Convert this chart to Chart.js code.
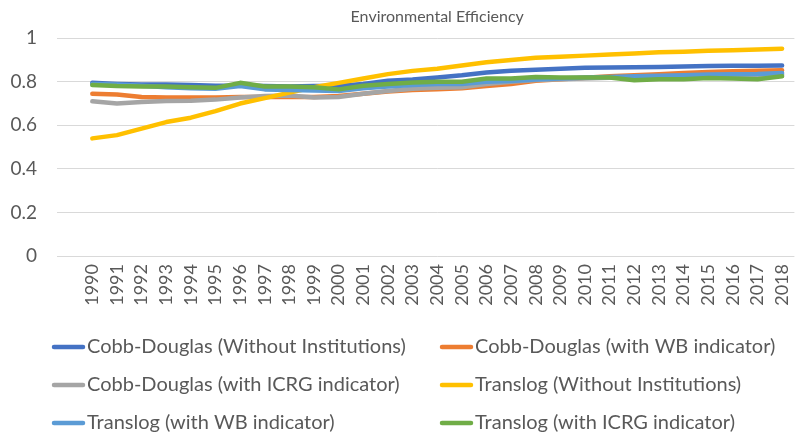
<!DOCTYPE html>
<html>
<head>
<meta charset="utf-8">
<script src="https://cdn.jsdelivr.net/npm/chart.js@4"></script>
<style>
  body { margin: 0; background: #fff; }
</style>
</head>
<body>
<canvas id="myChart" width="812" height="435"></canvas>
<script>
// years on the x axis
const years = ['1990','1991','1992','1993','1994','1995','1996','1997','1998','1999',
  '2000','2001','2002','2003','2004','2005','2006','2007','2008','2009',
  '2010','2011','2012','2013','2014','2015','2016','2017','2018'];

// series values
const cdWithout = [0.795,0.79,0.787,0.787,0.785,0.782,0.782,0.78,0.778,0.78,
  0.782,0.79,0.805,0.81,0.82,0.83,0.843,0.85,0.855,0.86,
  0.864,0.866,0.867,0.868,0.87,0.872,0.873,0.874,0.875];
const cdWB = [0.745,0.742,0.73,0.728,0.728,0.728,0.73,0.73,0.73,0.73,
  0.735,0.745,0.755,0.762,0.766,0.77,0.78,0.79,0.805,0.812,
  0.818,0.825,0.83,0.835,0.84,0.845,0.848,0.85,0.853];
const cdICRG = [0.71,0.70,0.707,0.712,0.713,0.718,0.728,0.735,0.737,0.728,
  0.73,0.745,0.758,0.768,0.772,0.775,0.79,0.80,0.808,0.812,
  0.815,0.818,0.82,0.822,0.824,0.826,0.828,0.83,0.832];
const tlWithout = [0.54,0.555,0.585,0.615,0.635,0.665,0.70,0.725,0.75,0.775,
  0.795,0.815,0.835,0.85,0.86,0.875,0.89,0.90,0.91,0.915,
  0.92,0.925,0.93,0.935,0.938,0.942,0.945,0.948,0.952];
const tlWB = [0.79,0.787,0.782,0.775,0.77,0.768,0.78,0.765,0.762,0.76,
  0.758,0.77,0.778,0.785,0.79,0.79,0.80,0.803,0.81,0.815,
  0.82,0.822,0.825,0.828,0.83,0.833,0.835,0.836,0.84];
const tlICRG = [0.785,0.78,0.778,0.778,0.775,0.772,0.795,0.778,0.778,0.775,
  0.765,0.782,0.79,0.797,0.80,0.80,0.815,0.815,0.822,0.82,
  0.82,0.82,0.807,0.812,0.812,0.817,0.815,0.812,0.825];

const seriesNames = ['Cobb-Douglas (Without Institutions)','Cobb-Douglas (with WB indicator)',
  'Cobb-Douglas (with ICRG indicator)','Translog (Without Institutions)',
  'Translog (with WB indicator)','Translog (with ICRG indicator)'];
const seriesData = [cdWithout, cdWB, cdICRG, tlWithout, tlWB, tlICRG];
const seriesColors = ['#4472C4','#ED7D31','#A5A5A5','#FFC000','#5B9BD5','#70AD47'];

const textColor = '#595959';
const fontName = 'Lato, "Open Sans", sans-serif';

// legend drawn in two columns, like the Excel one
const gridLegend = {
  id: 'gridLegend',
  afterDraw(chart) {
    const ctx = chart.ctx;
    const colX = [52, 440];
    const rowY = [347, 385, 423];
    ctx.save();
    ctx.font = '20px ' + fontName;
    ctx.fillStyle = textColor;
    ctx.textBaseline = 'middle';
    chart.data.datasets.forEach((ds, i) => {
      const x = colX[i % 2];
      const y = rowY[Math.floor(i / 2)];
      ctx.strokeStyle = ds.borderColor;
      ctx.lineWidth = 4.5;
      ctx.lineCap = 'round';
      ctx.beginPath();
      ctx.moveTo(x + 2, y);
      ctx.lineTo(x + 31, y);
      ctx.stroke();
      ctx.fillText(ds.label, x + 35, y);
    });
    ctx.restore();
  }
};

const config = {
  type: 'line',
  data: {
    labels: years,
    datasets: seriesData.map((values, i) => ({
      label: seriesNames[i],
      data: values,
      borderColor: seriesColors[i],
      backgroundColor: seriesColors[i],
      borderWidth: 4.5,
      borderCapStyle: 'round',
      borderJoinStyle: 'round',
      pointRadius: 0,
      fill: false,
      tension: 0,
      order: 5 - i // later series on top, as in Excel
    }))
  },
  options: {
    responsive: false,
    animation: false,
    layout: { padding: 0 },
    plugins: {
      legend: { display: false },
      tooltip: { enabled: false },
      title: {
        display: true,
        fullSize: false,
        text: 'Environmental Efficiency',
        color: textColor,
        font: { family: fontName, size: 16, weight: 'normal' },
        padding: { top: 7, bottom: 12 }
      }
    },
    scales: {
      x: {
        offset: true,
        grid: { display: false, drawTicks: false },
        border: { display: false },
        ticks: {
          color: textColor,
          font: { family: fontName, size: 18 },
          minRotation: 90,
          maxRotation: 90,
          autoSkip: false,
          padding: 8
        },
        afterFit(scale) { scale.height = 179; }
      },
      y: {
        min: 0,
        max: 1,
        grid: { color: '#D9D9D9', lineWidth: 1, drawTicks: true, tickLength: 23 },
        border: { display: false },
        ticks: {
          stepSize: 0.2,
          color: textColor,
          font: { family: fontName, size: 19 },
          padding: 20,
          callback: v => String(Math.round(v * 10) / 10)
        },
        afterFit(scale) { scale.width = 80; }
      }
    }
  },
  plugins: [gridLegend]
};

const ctx = document.getElementById('myChart').getContext('2d');
const myChart = new Chart(ctx, config);
</script>
</body>
</html>
